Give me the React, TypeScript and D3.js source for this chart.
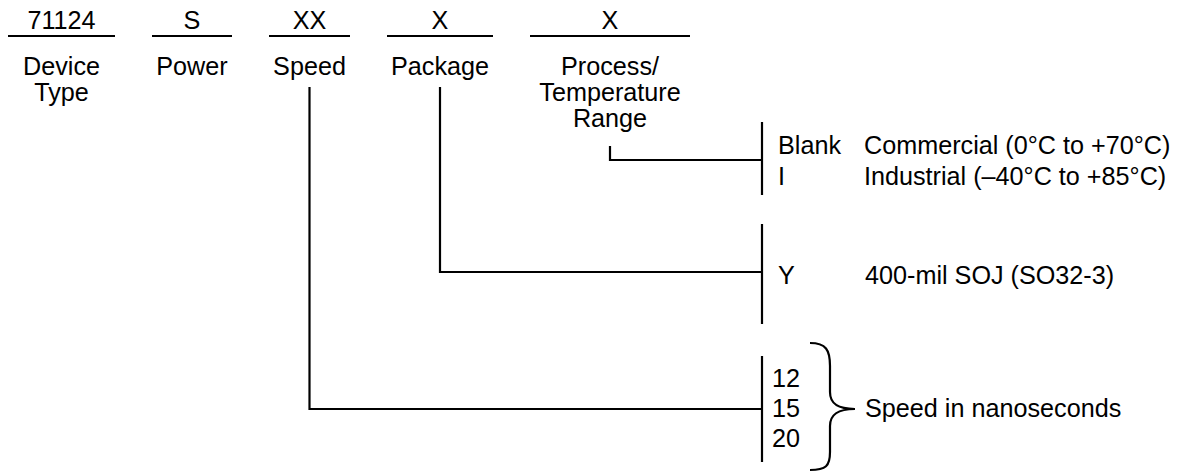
import { useEffect, useRef } from "react"
import * as d3 from "d3"

// ordering-information fields, left to right
const fieldCodes = ["71124", "S", "XX", "X", "X"]
const fieldLabels = [["Device", "Type"], ["Power"], ["Speed"], ["Package"], ["Process/", "Temperature", "Range"]]
const fieldSpans: [number, number][] = [[8, 115], [152, 232], [269, 350], [387, 493], [530, 690]]

// option groups hanging off the bus at the right
const tempCodes = ["Blank", "I"]
const tempDescs = ["Commercial (0°C to +70°C)", "Industrial (–40°C to +85°C)"]
const packageCodes = ["Y"]
const packageDescs = ["400-mil SOJ (SO32-3)"]
const speedCodes = ["12", "15", "20"]
const speedDesc = "Speed in nanoseconds"

export default function App() {
    const ref = useRef<SVGSVGElement>(null)

    useEffect(() => {
        document.body.style.margin = "0"
        const width = 1183
        const height = 472
        const font = "'Liberation Sans', Arial, sans-serif"
        const fontSize = 25.2
        const stroke = "#000"
        const lw = 2.2

        const svg = d3.select(ref.current)
        svg.selectAll("*").remove()
        svg.attr("width", width).attr("height", height).attr("viewBox", `0 0 ${width} ${height}`)

        const g = svg.append("g")
            .attr("font-family", font)
            .attr("font-size", fontSize)
            .attr("fill", "#000")

        const centers = fieldSpans.map(s => (s[0] + s[1]) / 2)
        const underlineY = 36
        const busX = 762

        // header: code, underline, label
        fieldCodes.forEach((code, i) => {
            g.append("text")
                .attr("x", centers[i]).attr("y", 29)
                .attr("text-anchor", "middle")
                .text(code)
            g.append("line")
                .attr("x1", fieldSpans[i][0]).attr("x2", fieldSpans[i][1])
                .attr("y1", underlineY).attr("y2", underlineY)
                .attr("stroke", stroke).attr("stroke-width", lw)
            fieldLabels[i].forEach((t, j) => {
                g.append("text")
                    .attr("x", centers[i]).attr("y", 75 + j * 26)
                    .attr("text-anchor", "middle")
                    .text(t)
            })
        })

        const path = (d: string) => g.append("path")
            .attr("d", d)
            .attr("fill", "none")
            .attr("stroke", stroke)
            .attr("stroke-width", lw)

        // leader lines from each field to its option group
        const line = d3.line()
        path(line([[centers[4], 146], [centers[4], 160], [busX, 160]])!)
        path(line([[centers[3], 87], [centers[3], 272], [busX, 272]])!)
        path(line([[centers[2], 87], [centers[2], 409], [busX, 409]])!)

        // vertical group bars
        const bars: [number, number][] = [[122, 195], [224, 324], [356, 462]]
        bars.forEach(b => path(line([[busX, b[0]], [busX, b[1]]])!))

        // temperature options
        const yTemp = d3.scalePoint<string>().domain(tempCodes).range([154, 185])
        tempCodes.forEach((c, i) => {
            g.append("text").attr("x", 778).attr("y", yTemp(c)!).text(c)
            g.append("text").attr("x", 864).attr("y", yTemp(c)!).text(tempDescs[i])
        })

        // package options
        packageCodes.forEach((c, i) => {
            g.append("text").attr("x", 778).attr("y", 284).text(c)
            g.append("text").attr("x", 865).attr("y", 284).text(packageDescs[i])
        })

        // speed options
        const ySpeed = d3.scalePoint<string>().domain(speedCodes).range([387, 447])
        speedCodes.forEach(c => {
            g.append("text").attr("x", 772).attr("y", ySpeed(c)!).text(c)
        })

        // curly brace
        path("M810,343 C826,343 830,350 830,366 L830,392 C830,404 838,409 855,409 C838,409 830,414 830,426 L830,452 C830,466 826,470 810,470")
        g.append("text").attr("x", 865).attr("y", 417).text(speedDesc)
    }, [])

    return <svg ref={ref} style={{ display: "block" }} />
}
